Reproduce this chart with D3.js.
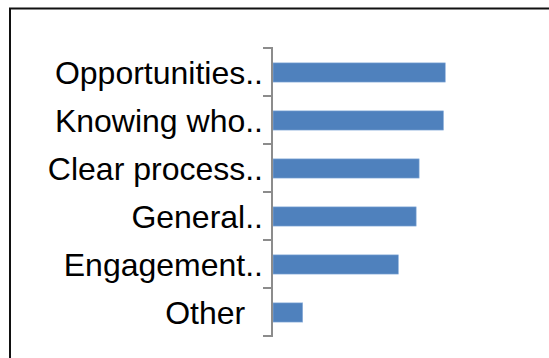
<!DOCTYPE html>
<html>
<head>
<meta charset="utf-8">
<script src="https://cdn.jsdelivr.net/npm/d3@7"></script>
<style>
  html, body { margin: 0; padding: 0; background: #fff; }
  svg { display: block; }
  .label { font-family: "Liberation Sans", Arial, sans-serif; font-size: 32px; fill: #000; white-space: pre; }
</style>
</head>
<body>
<svg id="chart" width="549" height="358"></svg>
<script>
// Categories (top to bottom) and their counts
const categories = [
  "Opportunities..",
  "Knowing who..",
  "Clear process..",
  "General..",
  "Engagement..",
  "Other\u00a0\u00a0"
];
const values = [29, 28.7, 24.6, 24.1, 21.1, 5];

const svg = d3.select("#chart");

// Outer chart frame (runs off the right and bottom edges)
svg.append("rect")
  .attr("x", 10).attr("y", 8.5)
  .attr("width", 700).attr("height", 500)
  .attr("fill", "none")
  .attr("stroke", "#111")
  .attr("stroke-width", 2);

const axisX = 272;
const x = d3.scaleLinear().domain([0, 30]).range([axisX + 1, axisX + 1 + 178.2]);
const y = d3.scaleBand().domain(categories).range([48, 336]).padding(0);
const step = y.step();

// Bars
svg.append("g").selectAll("rect")
  .data(categories)
  .join("rect")
  .attr("x", x(0))
  .attr("y", d => y(d) + step * 0.31)
  .attr("width", (d, i) => x(values[i]) - x(0))
  .attr("height", step * 0.4)
  .attr("fill", "#4F81BD")
  .attr("stroke", "#8FB1DC")
  .attr("stroke-width", 0.6);

// Category axis: vertical line with ticks at band boundaries
const axis = svg.append("g").attr("stroke", "#8C8C8C").attr("stroke-width", 2);
axis.append("line")
  .attr("x1", axisX).attr("x2", axisX)
  .attr("y1", y.range()[0] - 1).attr("y2", y.range()[1] + 1);
const bounds = categories.map(c => y(c)).concat([y.range()[1]]);
axis.selectAll("line.tick")
  .data(bounds)
  .join("line")
  .attr("class", "tick")
  .attr("x1", axisX - 9).attr("x2", axisX)
  .attr("y1", d => d).attr("y2", d => d);

// Category labels
svg.append("g").selectAll("text")
  .data(categories)
  .join("text")
  .attr("class", "label")
  .attr("x", 263)
  .attr("y", d => y(d) + step / 2)
  .attr("dy", "0.36em")
  .attr("text-anchor", "end")
  .text(d => d);
</script>
</body>
</html>
